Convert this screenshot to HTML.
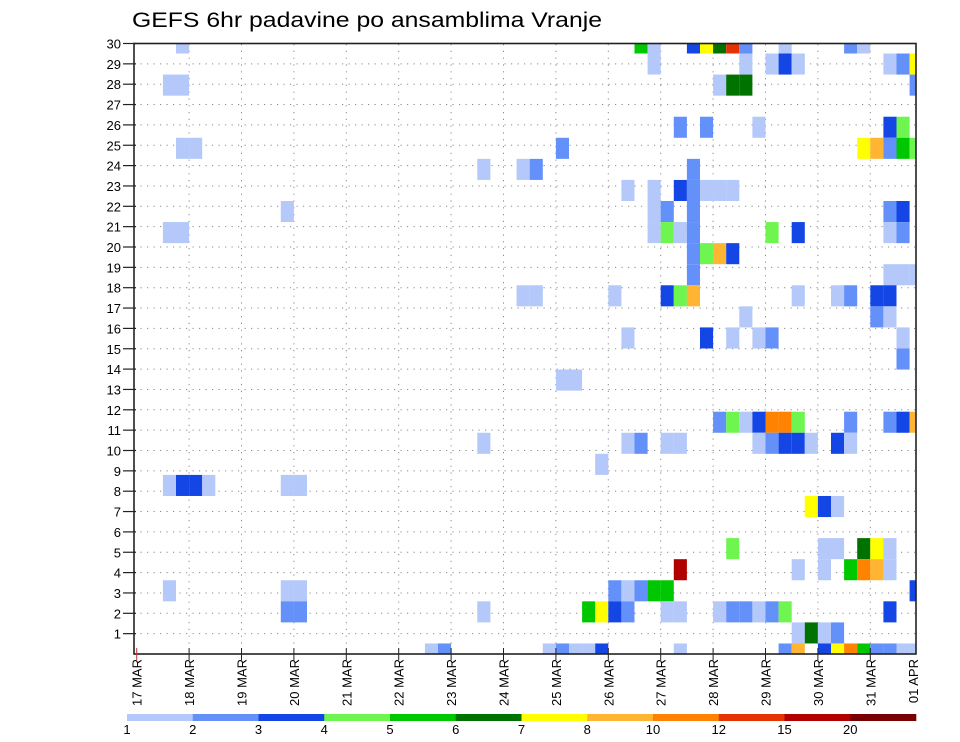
<!DOCTYPE html>
<html><head><meta charset="utf-8">
<style>
html,body{margin:0;padding:0;background:#fff;}
svg{display:block;font-family:"Liberation Sans","DejaVu Sans",sans-serif;}
</style></head>
<body>
<svg id="chart" width="960" height="742" viewBox="0 0 960 742" xmlns="http://www.w3.org/2000/svg">
<defs><clipPath id="plotclip"><rect x="134" y="43.5" width="782" height="610.5"/></clipPath></defs>
<text x="132" y="27" font-size="21" textLength="470" lengthAdjust="spacingAndGlyphs" fill="#000">GEFS 6hr padavine po ansamblima Vranje</text>
<g id="grid"></g>
<g id="cells" clip-path="url(#plotclip)"></g>
<rect x="134" y="43.5" width="782" height="610.5" fill="none" stroke="#222" stroke-width="1.6"/>
<g id="yaxis"></g>
<g id="xaxis"></g>
<g id="legend"></g>
</svg>
<script>
// ---- data ----
const dayLabels = ["17 MAR","18 MAR","19 MAR","20 MAR","21 MAR","22 MAR","23 MAR","24 MAR","25 MAR","26 MAR","27 MAR","28 MAR","29 MAR","30 MAR","31 MAR","01 APR"];
const memberTicks = [1,2,3,4,5,6,7,8,9,10,11,12,13,14,15,16,17,18,19,20,21,22,23,24,25,26,27,28,29,30];
const levelLabels = ["1","2","3","4","5","6","7","8","10","12","15","20"];
const levels = [1,2,3,4,5,6,7,8,10,12,15,20];
const levelColors = ["#b4c8fa","#6490fa","#1446e6","#6ef550","#00c800","#007200","#ffff00","#ffb432","#ff8200","#e63200","#b00000","#780000"];
// cells: member index, 6-hour step index, precipitation (mm)
const cellMember = [
29,29,29,29,29,29,29,29,29,29,29,
28,28,28,28,28,28,28,28,
27,27,27,27,27,27,
25,25,25,25,25,
24,24,24,24,24,24,24,24,
23,23,23,23,
22,22,22,22,22,22,22,
21,21,21,21,21,21,
20,20,20,20,20,20,20,20,20,20,
19,19,19,19,
18,18,18,18,
17,17,17,17,17,17,17,17,17,17,17,
16,16,16,
15,15,15,15,15,15,
14,
13,13,
11,11,11,11,11,11,11,11,11,11,11,
10,10,10,10,10,10,10,10,10,10,10,10,
9,
8,8,8,8,8,8,
7,7,7,
5,5,5,5,5,5,
4,4,4,4,4,4,4,
3,3,3,3,3,3,3,3,3,
2,2,2,2,2,2,2,2,2,2,2,2,2,2,2,2,
1,1,1,1,
0,0,0,0,0,0,0,0,0,0,0,0,0,0,0,0,0,0];
const cellStep = [
3,38,39,42,43,44,45,46,49,54,55,
39,46,48,49,50,57,58,59,
2,3,44,45,46,59,
41,43,47,57,58,
3,4,32,55,56,57,58,59,
26,29,30,42,
37,39,41,42,43,44,45,
11,39,40,42,57,58,
2,3,39,40,41,42,48,50,57,58,
42,43,44,45,
42,57,58,59,
29,30,36,40,41,42,50,53,54,56,57,
46,56,57,
37,43,45,47,48,58,
58,
32,33,
44,45,46,47,48,49,50,54,57,58,59,
26,37,38,40,41,47,48,49,50,51,53,54,
35,
2,3,4,5,11,12,
51,52,53,
45,52,53,55,56,57,
41,50,52,54,55,56,57,
2,11,12,36,37,38,39,40,59,
11,12,26,34,35,36,37,40,41,44,45,46,47,48,49,57,
50,51,52,53,
22,23,31,32,33,34,35,41,49,50,52,53,54,55,56,57,58,59];
const cellValue = [
1.5,5.5,1.5,3.5,7.5,6.5,13.5,2.5,1.5,2.5,1.5,
1.5,1.5,1.5,3.5,1.5,1.5,2.5,7.5,
1.5,1.5,1.5,6.5,6.5,2.5,
2.5,2.5,1.5,3.5,4.5,
1.5,1.5,2.5,7.5,9,2.5,5.5,4.5,
1.5,1.5,2.5,2.5,
1.5,1.5,3.5,2.5,1.5,1.5,1.5,
1.5,1.5,2.5,2.5,2.5,3.5,
1.5,1.5,1.5,4.5,1.5,2.5,4.5,3.5,1.5,2.5,
2.5,4.5,9,3.5,
2.5,1.5,1.5,1.5,
1.5,1.5,1.5,3.5,4.5,9,1.5,1.5,2.5,3.5,3.5,
1.5,2.5,1.5,
1.5,3.5,1.5,1.5,2.5,1.5,
2.5,
1.5,1.5,
2.5,4.5,1.5,3.5,11,11,4.5,2.5,2.5,3.5,9,
1.5,1.5,2.5,1.5,1.5,1.5,2.5,3.5,3.5,1.5,3.5,1.5,
1.5,
1.5,3.5,3.5,1.5,1.5,1.5,
7.5,3.5,1.5,
4.5,1.5,1.5,6.5,7.5,1.5,
17.5,1.5,1.5,5.5,11,9,1.5,
1.5,1.5,1.5,2.5,1.5,2.5,5.5,5.5,3.5,
2.5,2.5,1.5,5.5,7.5,3.5,2.5,1.5,1.5,1.5,2.5,2.5,1.5,2.5,4.5,3.5,
1.5,6.5,1.5,2.5,
1.5,2.5,1.5,2.5,1.5,1.5,3.5,1.5,2.5,9,3.5,7.5,11,5.5,2.5,2.5,1.5,1.5];

// ---- scales ----
const NS = "http://www.w3.org/2000/svg";
const X0 = 136.7, STEP = 13.1, STEPS_PER_DAY = 4;
const Y0 = 654, MEMBER_H = 21.07, TICK_H = 20.35;
function xStep(s){ return X0 + s*STEP; }
function xDay(d){ return X0 + d*STEP*STEPS_PER_DAY; }
function yMember(m){ return Y0 - m*MEMBER_H; }
function yTick(k){ return Y0 - k*TICK_H; }
function colorFor(v){ let i=0; for(let k=0;k<levels.length;k++){ if(v>=levels[k]) i=k; } return levelColors[i]; }
function mk(tag, attrs, parent){ const e=document.createElementNS(NS,tag); for(const k in attrs) e.setAttribute(k, attrs[k]); parent.appendChild(e); return e; }

// grid
const grid = document.getElementById('grid');
memberTicks.forEach(k=>{
  const ln = mk('line',{x1:134,x2:916,y1:yTick(k),y2:yTick(k),stroke:'#8a8a8a','stroke-width':1,'stroke-dasharray':'1.2,5.3'},grid);
  
  
});
for(let d=1; d<dayLabels.length-1; d++){
  const ln = mk('line',{x1:xDay(d),x2:xDay(d),y1:44,y2:654,stroke:'#8a8a8a','stroke-width':1,'stroke-dasharray':'1.2,5.6'},grid);
  
  
}

// cells
const cg = document.getElementById('cells');
for(let i=0;i<cellMember.length;i++){
  const r = mk('rect',{x:xStep(cellStep[i]),y:yMember(cellMember[i])-MEMBER_H/2,width:STEP,height:MEMBER_H,fill:colorFor(cellValue[i])},cg);
  
  
}

// y axis
const ya = document.getElementById('yaxis');
memberTicks.forEach(k=>{
  mk('line',{x1:123,x2:136,y1:yTick(k),y2:yTick(k),stroke:'#222','stroke-width':1.2},ya);
  const t = mk('text',{x:121,y:yTick(k)+5,'text-anchor':'end','font-size':13,fill:'#000'},ya);
  t.textContent = k;
  
  
});

// x axis
const xa = document.getElementById('xaxis');
dayLabels.forEach((lab,d)=>{
  let x = xDay(d);
  if(d===dayLabels.length-1) x = 913;
  else mk('line',{x1:x,x2:x,y1:648,y2:660,stroke:d===0?'#c33':'#222','stroke-width':1},xa);
  const t = mk('text',{x:0,y:0,'text-anchor':'end','font-size':13,fill:'#000',transform:`translate(${x+5},659) rotate(-90)`},xa);
  t.textContent = lab;
  
  
});

// legend
const lg = document.getElementById('legend');
const LX0 = 127, LX1 = 916, LW = (LX1-LX0)/levelColors.length;
levelColors.forEach((c,i)=>{
  const r = mk('rect',{x:LX0+i*LW,y:714,width:LW+0.3,height:7,fill:c},lg);
  
  
});
levelLabels.forEach((lab,i)=>{
  const t = mk('text',{x:LX0+i*LW,y:734,'text-anchor':'middle','font-size':13,fill:'#000'},lg);
  t.textContent = lab;
  
  
});
</script>
</body></html>
